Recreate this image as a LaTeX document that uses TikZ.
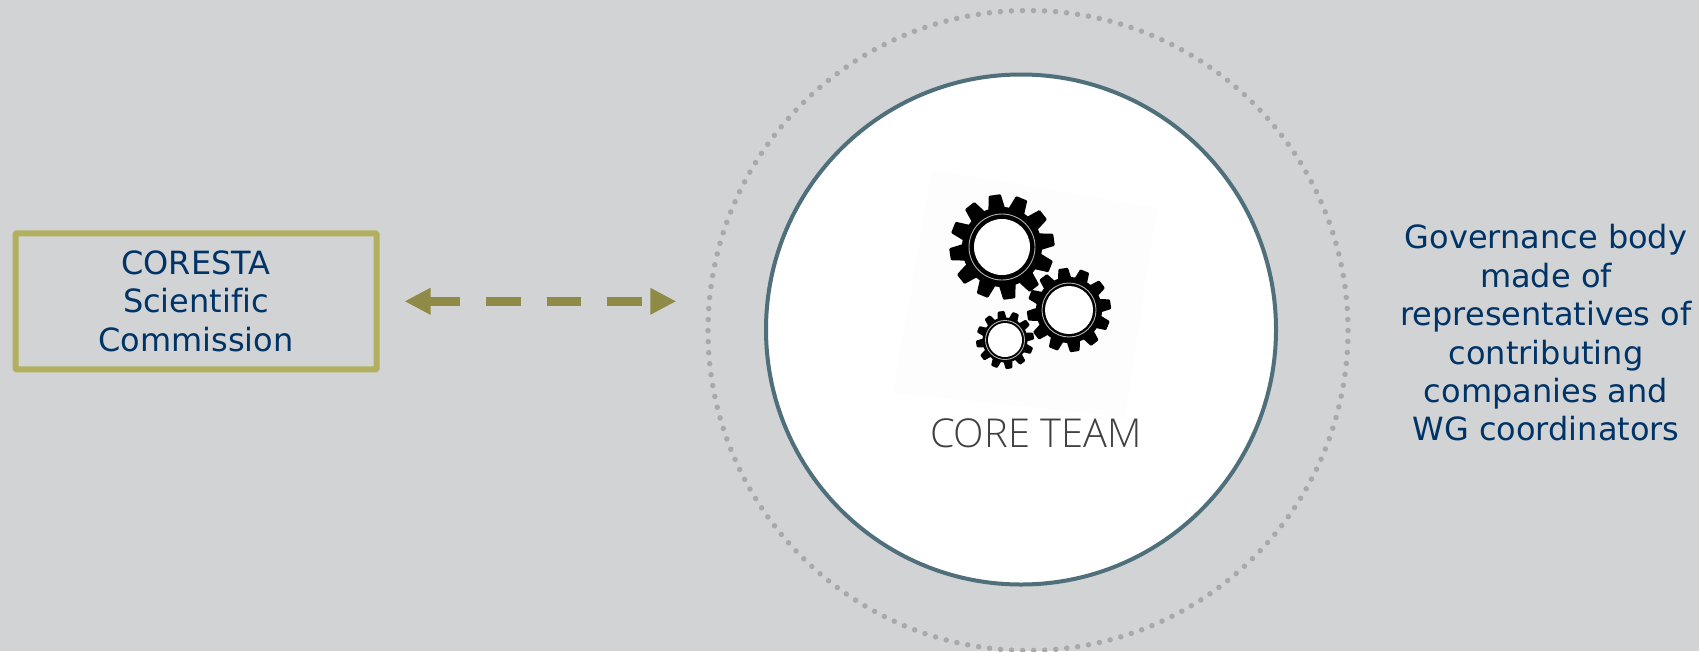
\documentclass[tikz,border=0pt]{standalone}
\usepackage{fontspec}
\setmainfont{DejaVu Sans}[Ligatures=NoCommon]
\newfontfamily\teamfont{Open Sans Light}
\usepackage{xcolor}
\usepackage{tikz}
\usetikzlibrary{arrows.meta,positioning,shapes,calc}

\definecolor{panelgrey}{HTML}{D1D3D5}
\definecolor{navytext}{HTML}{003366}
\definecolor{boxolive}{HTML}{B2B05F}
\definecolor{arrowolive}{HTML}{8F8A45}
\definecolor{ringteal}{HTML}{4F6F7A}
\definecolor{dotgrey}{HTML}{A9A9A9}

\tikzset{
  bodytext/.style={text=navytext, align=center, inner sep=0pt, font=\fontsize{32}{38.4}\selectfont},
  gearring/.style={draw=black!30, line width=0.9pt}
}

% center x, center y, outer radius, root radius, hole radius, ring radius
\newcommand{\drawgear}[6]{
  \begin{scope}[shift={(#1,#2)}]
    \foreach \ang in {0,30,...,330} {
      \fill[black, rotate=\ang+8, rounded corners=1pt] (-0.16*#3,-#4+2) -- (-0.115*#3,-#3) -- (0.115*#3,-#3) -- (0.16*#3,-#4+2) -- cycle;
    }
    \fill[black] (0,0) circle (#4);
    \fill[white] (0,0) circle (#5);
    \draw[gearring] (0,0) circle (#6);
  \end{scope}
}

\begin{document}
\begin{tikzpicture}[x=1pt, y=-1pt]

% Background
\fill[panelgrey] (0,0) rectangle (1699,651);
\useasboundingbox (0,0) rectangle (1699,651);

% Circles
\node[circle, draw=dotgrey, line width=5.5pt, line cap=round, dash pattern=on 0pt off 11.05pt, minimum size=640pt, inner sep=0pt] (outerring) at (1028,330.5) {};
\node[circle, draw=ringteal, fill=white, line width=4pt, minimum size=510pt, inner sep=0pt] (coreteam) at (1021,329.5) {};

% Faint backing of the gears
\fill[black!0.7] (932,170) -- (1157,208) -- (1125,417) -- (893,393) -- cycle;

% Gears
\drawgear{1002}{247}{52.5}{40}{28}{33}
\drawgear{1069}{310}{42}{33}{24}{27}
\drawgear{1005}{340}{29}{22.5}{17}{19.5}

\node[text=black!75, inner sep=0pt, font=\teamfont\fontsize{39.8}{44}\selectfont] (teamlabel) at (1035.7,433) {CORE TEAM};

% Left box
\node[draw=boxolive, line width=6pt, rounded corners=1pt, minimum width=361pt, minimum height=136pt, bodytext] (commission) at (196,301.3) {CORESTA\\Scientific\\Commission};

% Double arrow
\draw[{Triangle[length=26pt, width=25pt]}-{Triangle[length=26pt, width=25pt]}, arrowolive, line width=9pt, dash pattern=on 34.7pt off 25.9pt, dash phase=3.5pt, shorten <=25pt, shorten >=29pt] (commission.east) -- (outerring.west |- commission.east);

% Right text
\node[bodytext] (governance) at (1546,333) {Governance body\\made of\\representatives of\\contributing\\companies and\\WG coordinators};

\end{tikzpicture}
\end{document}
